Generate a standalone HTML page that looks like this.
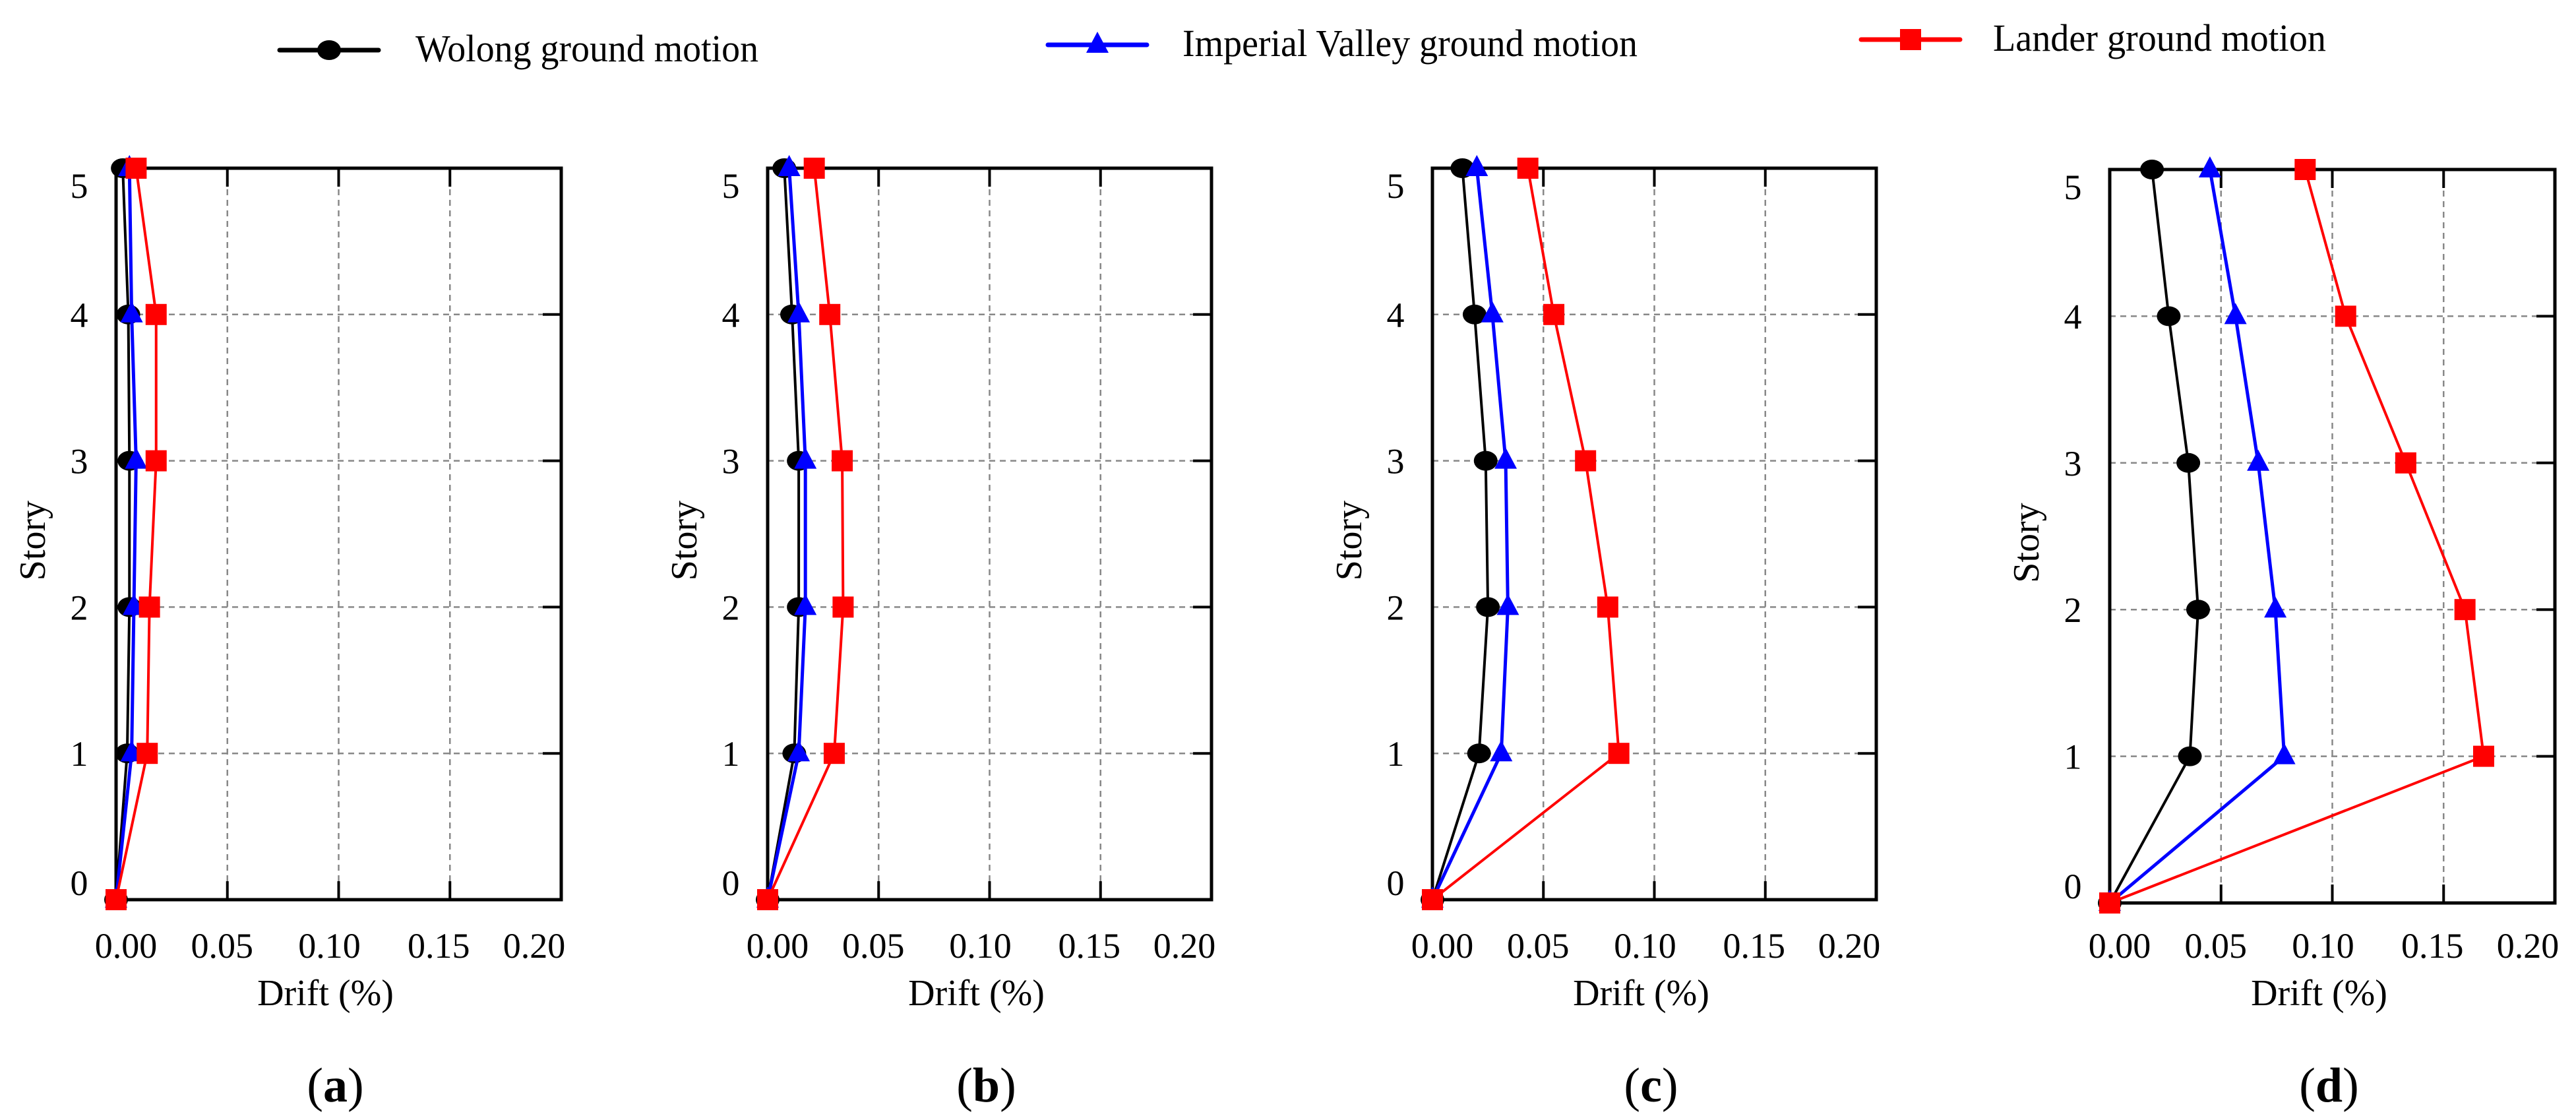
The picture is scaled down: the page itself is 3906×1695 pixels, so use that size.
<!DOCTYPE html>
<html><head><meta charset="utf-8"><style>
html,body{margin:0;padding:0;background:#fff;}
svg{display:block;}
text{font-family:"Liberation Serif","Times New Roman",serif;}
</style></head><body>
<svg id="chart" xmlns="http://www.w3.org/2000/svg" width="3906" height="1695" viewBox="0 0 3906 1695" font-family="Liberation Serif, serif">
<g id="legend"></g>
<g id="panels"></g>
</svg>
<script>
const stories = [0,1,2,3,4,5];
const xTicks = [0,0.05,0.10,0.15,0.20];
const xTickLabels = ["0.00","0.05","0.10","0.15","0.20"];
const panelLabels = ["a","b","c","d"];
const seriesNames = ["Wolong ground motion","Imperial Valley ground motion","Lander ground motion"];
const wolongA = [0,0.005,0.006,0.006,0.0055,0.003];
const imperialA = [0,0.007,0.008,0.009,0.007,0.006];
const landerA = [0,0.014,0.015,0.018,0.018,0.009];
const wolongB = [0,0.012,0.014,0.014,0.011,0.0075];
const imperialB = [0,0.014,0.017,0.017,0.014,0.0097];
const landerB = [0,0.030,0.034,0.0336,0.028,0.021];
const wolongC = [0,0.021,0.025,0.024,0.019,0.0135];
const imperialC = [0,0.031,0.034,0.033,0.027,0.020];
const landerC = [0,0.084,0.079,0.069,0.0547,0.043];
const wolongD = [0,0.036,0.0397,0.0353,0.0265,0.019];
const imperialD = [0,0.0784,0.0744,0.0667,0.0565,0.045];
const landerD = [0,0.168,0.1596,0.133,0.106,0.0878];

const NS="http://www.w3.org/2000/svg";
const FONT='Liberation Serif, serif';
function mk(tag,attrs,parent){const e=document.createElementNS(NS,tag);for(const k in attrs)e.setAttribute(k,attrs[k]);parent.appendChild(e);return e;}
const colors=["#000000","#0000ff","#ff0000"];
const panelsData=[[wolongA,imperialA,landerA],[wolongB,imperialB,landerB],[wolongC,imperialC,landerC],[wolongD,imperialD,landerD]];
const frames=[{l:176,r:851,t:255,b:1364},{l:1164,r:1837,t:255,b:1364},{l:2172,r:2845,t:255,b:1364},{l:3199,r:3874,t:257,b:1369}];
const labelShift=[15,-8,-14,-17,-41];

function marker(g,type,cx,cy,color){
  let e;
  if(type===0){e=mk('ellipse',{cx:cx,cy:cy,rx:18,ry:15,fill:color},g);}
  else if(type===1){e=mk('polygon',{points:`${cx},${cy-20} ${cx-17},${cy+12} ${cx+17},${cy+12}`,fill:color},g);}
  else {e=mk('rect',{x:cx-16,y:cy-16,width:32,height:32,fill:color},g);}
  return e;
}

const root=document.getElementById('panels');
frames.forEach((f,pi)=>{
  const g=mk('g',{},root);
  
  
  const xs=v=>f.l+(v-xTicks[0])/(xTicks[xTicks.length-1]-xTicks[0])*(f.r-f.l);
  const ys=v=>f.b-(v-stories[0])/(stories[stories.length-1]-stories[0])*(f.b-f.t);
  const grid=mk('g',{},g);
  
  
  xTicks.slice(1,-1).forEach(t=>{mk('line',{x1:xs(t),x2:xs(t),y1:f.t,y2:f.b,stroke:'#888',"stroke-width":2.5,"stroke-dasharray":"9,7"},grid);});
  stories.slice(1,-1).forEach(s=>{mk('line',{x1:f.l,x2:f.r,y1:ys(s),y2:ys(s),stroke:'#888',"stroke-width":2.5,"stroke-dasharray":"9,7"},grid);});
  xTicks.slice(1,-1).forEach(t=>{
    mk('line',{x1:xs(t),x2:xs(t),y1:f.b,y2:f.b-28,stroke:'#000',"stroke-width":4},g);
    mk('line',{x1:xs(t),x2:xs(t),y1:f.t,y2:f.t+28,stroke:'#000',"stroke-width":4},g);
  });
  stories.slice(1,-1).forEach(s=>{
    mk('line',{x1:f.r,x2:f.r-28,y1:ys(s),y2:ys(s),stroke:'#000',"stroke-width":4},g);
  });
  const fr=mk('rect',{x:f.l,y:f.t,width:f.r-f.l,height:f.b-f.t,fill:'none',stroke:'#000',"stroke-width":5},g);
  
  
  xTicks.forEach((t,i)=>{
    const tx=mk('text',{x:xs(t)+labelShift[i],y:1452,"font-size":54,"text-anchor":"middle","font-family":FONT},g);
    tx.textContent=xTickLabels[i];
    
    
  });
  stories.forEach((s,i)=>{
    const off = (s===5)?26:(s===0?-26:0);
    const ty=mk('text',{x:f.l-56,y:ys(s)+off+19,"font-size":54,"text-anchor":"middle","font-family":FONT},g);
    ty.textContent=String(s);
    
    
  });
  const xt=mk('text',{x:(f.l+f.r)/2-20,y:1524,"font-size":56,"text-anchor":"middle","font-family":FONT},g);
  xt.textContent='Drift (%)';
  
  
  const yx=f.l-108, yy=(f.t+f.b)/2+10;
  const yt=mk('text',{x:yx,y:yy,"font-size":56,"text-anchor":"middle","font-family":FONT,transform:`rotate(-90 ${yx} ${yy})`},g);
  yt.textContent='Story';
  
  
  const pl=mk('text',{x:(f.l+f.r)/2-5,y:1670,"font-size":74,"text-anchor":"middle","font-family":FONT},g);
  pl.innerHTML='(<tspan font-weight="bold">'+panelLabels[pi]+'</tspan>)';
  
  
  panelsData[pi].forEach((vals,si)=>{
    const sg=mk('g',{},g);
    
    
    const pts=vals.map((v,k)=>xs(v)+','+ys(stories[k])).join(' ');
    const ln=mk('polyline',{points:pts,fill:'none',stroke:colors[si],"stroke-width":si===1?5:4},sg);
    
    
    vals.forEach((v,k)=>{
      const m=marker(sg,si,xs(v),ys(stories[k]),colors[si]);
      
      
    });
  });
});

const lg=document.getElementById('legend');
const legX=[424,1589,2822], legY=[76,68,60], textX=[630,1793,3022], textLen=[520,690,505];
seriesNames.forEach((n,i)=>{
  const e=mk('g',{},lg);
  
  
  mk('line',{x1:legX[i],x2:legX[i]+150,y1:legY[i],y2:legY[i],stroke:colors[i],"stroke-width":7,"stroke-linecap":"round"},e);
  marker(e,i,legX[i]+75,legY[i],colors[i]);
  const t=mk('text',{x:textX[i],y:legY[i]+17,"font-size":58,textLength:textLen[i],lengthAdjust:'spacingAndGlyphs',"font-family":FONT},e);
  t.textContent=n;
});
</script>
</body></html>
